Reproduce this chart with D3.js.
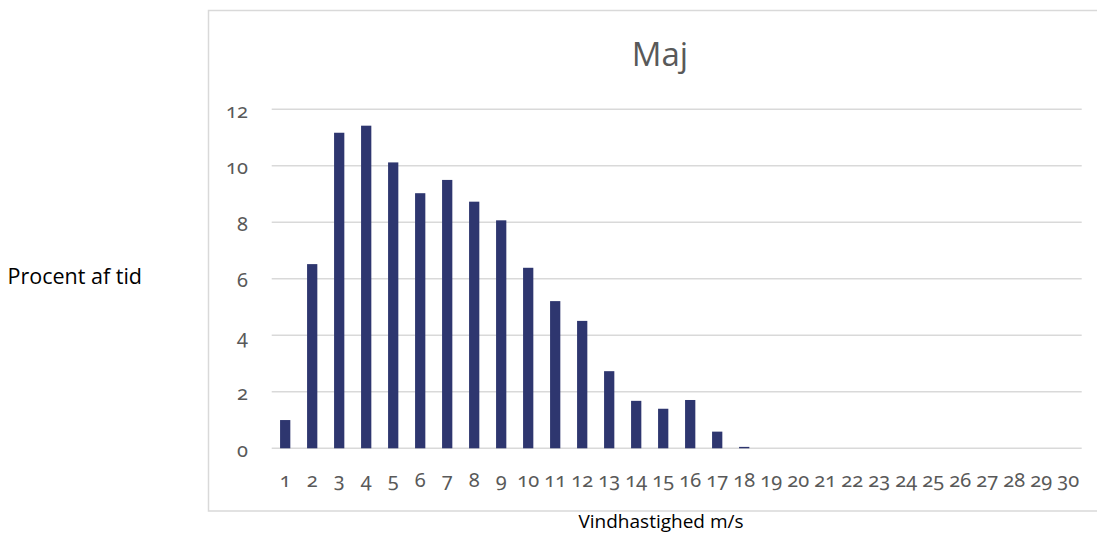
<!DOCTYPE html>
<html>
<head>
<meta charset="utf-8">
<script src="https://cdn.jsdelivr.net/npm/d3@7"></script>
<style>
  body { margin: 0; background: #fff; }
  svg { display: block; }
  .tick text { font-family: "Noto Sans", "Open Sans", sans-serif; font-variant-numeric: oldstyle-nums; font-feature-settings: "onum" 1; }
</style>
</head>
<body>
<svg id="chart" width="1097" height="537"></svg>
<script>
const categories = ["1","2","3","4","5","6","7","8","9","10","11","12","13","14","15","16","17","18","19","20","21","22","23","24","25","26","27","28","29","30"];
const values = [1.0, 6.52, 11.17, 11.42, 10.12, 9.03, 9.5, 8.73, 8.07, 6.39, 5.21, 4.51, 2.73, 1.68, 1.4, 1.71, 0.59, 0.05, 0, 0, 0, 0, 0, 0, 0, 0, 0, 0, 0, 0];
const yTicks = [0, 2, 4, 6, 8, 10, 12];
const title = "Maj";
const xTitle = "Vindhastighed m/s";
const yTitle = "Procent af tid";

const svg = d3.select("#chart");
const plot = { left: 271.7, right: 1081.7, top: 109.3, bottom: 448.3 };

// chart area border
svg.append("rect")
  .attr("x", 208.5).attr("y", 10.5)
  .attr("width", 1100).attr("height", 500.5)
  .attr("fill", "#fff").attr("stroke", "#d9d9d9").attr("stroke-width", 1.5);

const x = d3.scaleBand().domain(categories).range([plot.left, plot.right]).paddingInner(0.62).paddingOuter(0.31);
const y = d3.scaleLinear().domain([0, 12]).range([plot.bottom, plot.top]);

// gridlines
svg.append("g").selectAll("line").data(yTicks).join("line")
  .attr("x1", plot.left).attr("x2", plot.right)
  .attr("y1", d => y(d)).attr("y2", d => y(d))
  .attr("stroke", "#d9d9d9").attr("stroke-width", 1.5);

// y axis
const yAxis = svg.append("g").attr("transform", `translate(248,0)`)
  .call(d3.axisLeft(y).tickValues(yTicks).tickSize(0).tickPadding(0));
yAxis.select(".domain").remove();
yAxis.selectAll("text").attr("fill", "#595959").attr("font-size", 20).attr("dy", 0).attr("y", 8).attr("x", 0);

// bars
svg.append("g").selectAll("rect").data(values).join("rect")
  .attr("x", (d, i) => x(categories[i]))
  .attr("width", x.bandwidth())
  .attr("y", d => y(d))
  .attr("height", d => y(0) - y(d))
  .attr("fill", "#2e366f");

// x axis
const xAxis = svg.append("g").attr("transform", `translate(0,${plot.bottom})`)
  .call(d3.axisBottom(x).tickSize(0).tickPadding(0));
xAxis.select(".domain").remove();
xAxis.selectAll("text").attr("fill", "#595959").attr("font-size", 20).attr("dy", 0).attr("y", 38.5);

// title
svg.append("text").attr("x", 660).attr("y", 66)
  .attr("text-anchor", "middle")
  .attr("font-family", "'Open Sans', 'Noto Sans', sans-serif")
  .attr("font-size", 33).attr("fill", "#595959").text(title);

// axis titles
svg.append("text").attr("x", 661).attr("y", 528)
  .attr("text-anchor", "middle")
  .attr("font-family", "'Open Sans', 'Noto Sans', sans-serif")
  .attr("font-size", 19).attr("fill", "#000").text(xTitle);

svg.append("text").attr("x", 7.5).attr("y", 284)
  .attr("text-anchor", "start")
  .attr("font-family", "'Open Sans', 'Noto Sans', sans-serif")
  .attr("font-size", 21.5).attr("fill", "#000").text(yTitle);
</script>
</body>
</html>
